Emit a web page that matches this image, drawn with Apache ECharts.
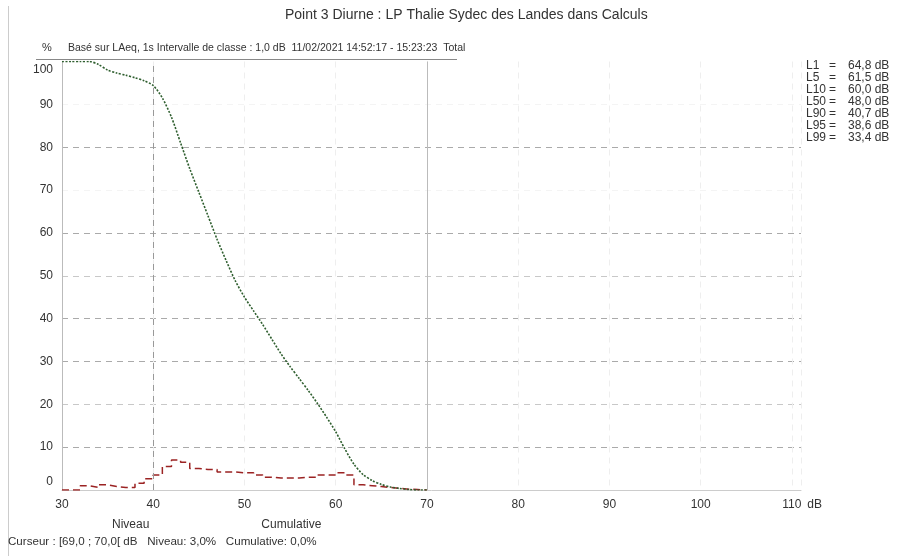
<!DOCTYPE html>
<html>
<head>
<meta charset="utf-8">
<script src="https://cdn.jsdelivr.net/npm/echarts@6/dist/echarts.min.js"></script>
<style>
html,body{margin:0;padding:0;background:#fff;}
#chart{width:913px;height:556px;}
</style>
</head>
<body>
<div id="chart"></div>
<script>
// ---- data ----
const titleText = 'Point 3 Diurne : LP Thalie Sydec des Landes dans Calculs';
const subtitleText = 'Basé sur LAeq, 1s Intervalle de classe : 1,0 dB  11/02/2021 14:52:17 - 15:23:23  Total';
const statusText = 'Curseur : [69,0 ; 70,0[ dB   Niveau: 3,0%   Cumulative: 0,0%';
const seriesNames = ['Niveau', 'Cumulative'];
// class lower bounds (dB)
const levels = [30,31,32,33,34,35,36,37,38,39,40,41,42,43,44,45,46,47,48,49,50,
                51,52,53,54,55,56,57,58,59,60,61,62,63,64,65,66,67,68,69,70];
// Niveau (% of time in class [x, x+1[)
const niveau = [0,0,1.0,0.6,1.2,0.8,0.6,0.6,1.6,2.6,3.5,5.5,7.0,6.5,5.0,4.8,4.8,4.2,4.2,4.0,4.0,
                3.5,3.0,2.8,2.8,2.8,3.0,3.0,3.5,3.5,4.0,3.5,1.2,1.0,0.8,0.6,0.4,0.2,0.1,0,0];
// Cumulative (% of time above level)
const cumulative = [100,100,100,100,99.3,98.0,97.3,96.8,96.2,95.5,94.4,91.5,87.0,81.0,75.0,69.5,64.0,58.5,53.5,48.8,45.0,
                    41.8,38.6,35.2,31.8,28.8,26.0,23.2,20.2,17.0,13.6,9.6,6.0,3.6,2.2,1.3,0.7,0.35,0.12,0,0];
const statNames = ['L1','L5','L10','L50','L90','L95','L99'];
const statValues = [64.8,61.5,60.0,48.0,40.7,38.6,33.4];
const xTicks = [30,40,50,60,70,80,90,100,110];
const cursorLevel = 70;
const refLevel = 40;

// ---- chart ----
const FONT = '"Liberation Sans", Arial, sans-serif';
const chart = echarts.init(document.getElementById('chart'), null, {renderer:'canvas'});

const fmt = v => v.toFixed(1).replace('.', ',');
const statGraphics = [];
statNames.forEach((n, i) => {
  const y = 67 + i * 12;
  statGraphics.push({type:'text', left: 806, top: y - 7, silent:true,
    style:{text:n, font:'12px ' + FONT, fill:'#333'}});
  statGraphics.push({type:'text', left: 829, top: y - 7, silent:true,
    style:{text:'=', font:'12px ' + FONT, fill:'#333'}});
  statGraphics.push({type:'text', left: 848, top: y - 7, silent:true,
    style:{text:fmt(statValues[i]) + ' dB', font:'12px ' + FONT, fill:'#333'}});
});

const option = {
  backgroundColor:'#fff',
  animation:false,
  textStyle:{fontFamily:FONT},
  title:[
    {text:titleText, left:280, top:3, textStyle:{fontSize:14, fontWeight:'normal', color:'#333', fontFamily:FONT}},
    {text:subtitleText, left:63, top:38, textStyle:{fontSize:10.5, fontWeight:'normal', color:'#333', fontFamily:FONT}},
    {text:statusText, left:3, top:531, textStyle:{fontSize:11.6, fontWeight:'normal', color:'#333', fontFamily:FONT}}
  ],
  legend:{
    data:seriesNames, left:102, top:514, icon:'none', itemWidth:0, itemHeight:0, itemGap:107,
    textStyle:{fontSize:12, color:'#333', fontFamily:FONT}, selectedMode:false
  },
  grid:{left:62, right:112, top:61.5, bottom:66},
  xAxis:{
    type:'value', min:30, max:111, interval:10,
    name:'dB', nameLocation:'end', nameGap:6,
    nameTextStyle:{fontSize:12, color:'#333', verticalAlign:'top', padding:[9,0,0,0]},
    axisLine:{show:true, lineStyle:{color:'#ccc'}},
    axisTick:{show:false},
    axisLabel:{show:true, margin:9, fontSize:12, color:'#333', showMaxLabel:false,
      formatter: v => xTicks.indexOf(v) >= 0 ? String(v) : ''},
    splitLine:{show:true, lineStyle:{color:'#eeeeee', type:[6,5]}}
  },
  yAxis:{
    type:'value', min:0, max:100, interval:10,
    name:'%', nameLocation:'end', nameGap:8,
    nameTextStyle:{fontSize:11, color:'#333', padding:[0,30,0,0]},
    axisLine:{show:true, lineStyle:{color:'#bbb'}},
    axisTick:{show:false},
    axisLabel:{margin:9, fontSize:12, color:'#333',
      formatter: v => v === 100 ? '{top|100}' : (v === 0 ? '{bot|0}' : String(v)),
      rich:{top:{fontSize:12, color:'#333', padding:[16,0,0,0]}, bot:{fontSize:12, color:'#333', padding:[0,0,16,0]}}},
    splitLine:{show:true, lineStyle:{color:['transparent','#aaa','#c8c8c8','#aaa','#aaa','#c8c8c8','#aaa','#f4f4f4','#aaa','#f4f4f4','transparent'], type:[6,5]}}
  },
  graphic:[
    {type:'line', silent:true, shape:{x1:36, y1:59.5, x2:457, y2:59.5}, style:{stroke:'#888', lineWidth:1}},
    {type:'line', silent:true, shape:{x1:8.5, y1:6, x2:8.5, y2:556}, style:{stroke:'#ccc', lineWidth:1}}
  ].concat(statGraphics),
  series:[
    {
      name:seriesNames[0], type:'line', step:'end', symbol:'none',
      data: levels.map((x, i) => [x, niveau[i]]),
      lineStyle:{color:'#9b2323', width:1.5, type:[7,4]},
      itemStyle:{color:'#9b2323'},
      z:3,
      markLine:{silent:true, symbol:'none', label:{show:false},
        data:[
          {xAxis:refLevel, lineStyle:{color:'#999', type:[6,5], width:1}},
          {xAxis:cursorLevel, lineStyle:{color:'#bbb', type:'solid', width:1}}
        ]}
    },
    {
      name:seriesNames[1], type:'line', smooth:0.25, symbol:'none',
      data: levels.map((x, i) => [x, cumulative[i]]),
      lineStyle:{color:'#2e5e2e', width:1.6, type:[2,1.5]},
      itemStyle:{color:'#2e5e2e'},
      z:4
    }
  ]
};
chart.setOption(option);
</script>
</body>
</html>
